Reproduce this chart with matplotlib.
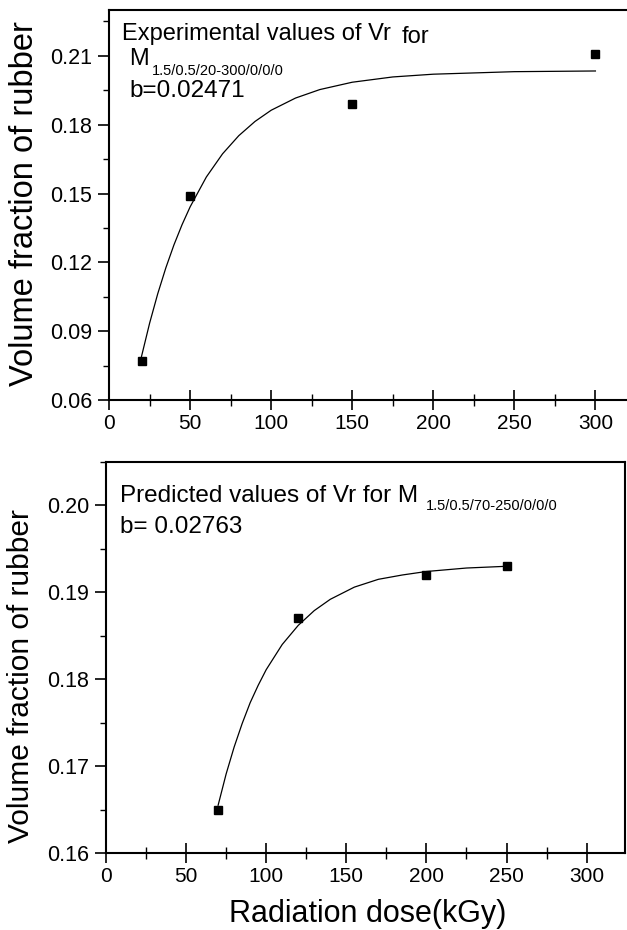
import matplotlib
matplotlib.use("Agg")
import matplotlib.pyplot as plt
from matplotlib.ticker import MultipleLocator, FormatStrFormatter

plt.rcParams['font.family'] = ['Liberation Sans', 'DejaVu Sans']

# ---- data: top panel (experimental) ----
exp_dose = [20, 50, 150, 300]
exp_vr = [0.077, 0.149, 0.189, 0.211]
exp_fit_x = [20, 25, 30, 35, 40, 45, 50, 60, 70, 80, 90, 100, 115, 130, 150, 175, 200, 250, 300]
exp_fit_y = [0.0790, 0.0935, 0.1063, 0.1176, 0.1276, 0.1364, 0.1442, 0.1572, 0.1673,
             0.1752, 0.1814, 0.1863, 0.1916, 0.1953, 0.1985, 0.2008, 0.2020, 0.2031, 0.2034]

# ---- data: bottom panel (predicted) ----
pred_dose = [70, 120, 200, 250]
pred_vr = [0.165, 0.187, 0.192, 0.193]
pred_fit_x = [70, 75, 80, 85, 90, 95, 100, 110, 120, 130, 140, 155, 170, 185, 200, 225, 250]
pred_fit_y = [0.1655, 0.1691, 0.1722, 0.1749, 0.1773, 0.1793, 0.1811, 0.1840, 0.1862,
              0.1879, 0.1892, 0.1906, 0.1915, 0.1920, 0.1924, 0.1928, 0.1930]

top_yticks = [0.06, 0.09, 0.12, 0.15, 0.18, 0.21]
bot_yticks = [0.16, 0.17, 0.18, 0.19, 0.20]
xticks = [0, 50, 100, 150, 200, 250, 300]

fig = plt.figure(figsize=(6.27, 9.30), dpi=100)
ax1 = fig.add_axes([0.174, 0.5699, 0.8325, 0.4194])
ax2 = fig.add_axes([0.169, 0.0828, 0.828, 0.4204])


def style(ax, yticks, ylim, xlim, yminor):
    ax.set_xlim(*xlim)
    ax.set_ylim(*ylim)
    ax.set_xticks(xticks)
    ax.set_yticks(yticks)
    ax.xaxis.set_minor_locator(MultipleLocator(25))
    ax.yaxis.set_minor_locator(MultipleLocator(yminor))
    ax.yaxis.set_major_formatter(FormatStrFormatter('%.2f'))
    ax.tick_params(axis='x', which='major', direction='inout', length=14, width=1.2,
                   labelsize=15, top=False, pad=3)
    ax.tick_params(axis='x', which='minor', direction='inout', length=8, width=1.0, top=False)
    ax.tick_params(axis='y', which='major', direction='out', length=8, width=1.2,
                   labelsize=15.5, right=False, pad=4)
    ax.tick_params(axis='y', which='minor', direction='out', length=4, width=1.0, right=False)
    for s in ax.spines.values():
        s.set_linewidth(1.5)


style(ax1, top_yticks, (0.06, 0.23), (0, 322), 0.015)
style(ax2, bot_yticks, (0.16, 0.205), (0, 324), 0.005)

ax1.set_ylabel('Volume fraction of rubber', fontsize=23.5)
ax1.yaxis.set_label_coords(-0.132, 0.503)
ax2.set_ylabel('Volume fraction of rubber', fontsize=21.5)
ax2.yaxis.set_label_coords(-0.136, 0.453)

ax1.plot(exp_fit_x, exp_fit_y, color='black', lw=0.9)
ax1.plot(exp_dose, exp_vr, 's', color='black', ms=6, clip_on=False)
ax2.plot(pred_fit_x, pred_fit_y, color='black', lw=0.9)
ax2.plot(pred_dose, pred_vr, 's', color='black', ms=6, clip_on=False)

ax2.set_xlabel('Radiation dose(kGy)', fontsize=22)
ax2.xaxis.set_label_coords(0.505, -0.117)

# annotations (figure pixel coordinates, from top)
W, H = 627, 930


def ftext(x, y, s, size, **kw):
    fig.text(x / W, 1 - y / H, s, fontsize=size, va='baseline', ha='left', **kw)


ftext(122, 40, 'Experimental values of Vr', 17)
ftext(402, 43, 'for', 17)
ftext(129, 65, 'M', 17)
ftext(152, 75, '1.5/0.5/20-300/0/0/0', 10.5)
ftext(129, 97, 'b=0.02471', 17.5)

ftext(120, 502, 'Predicted values of Vr for M', 17.5)
ftext(426, 510, '1.5/0.5/70-250/0/0/0', 10.5)
ftext(120, 533, 'b= 0.02763', 17.5)

fig.savefig('out.png', dpi=100)
